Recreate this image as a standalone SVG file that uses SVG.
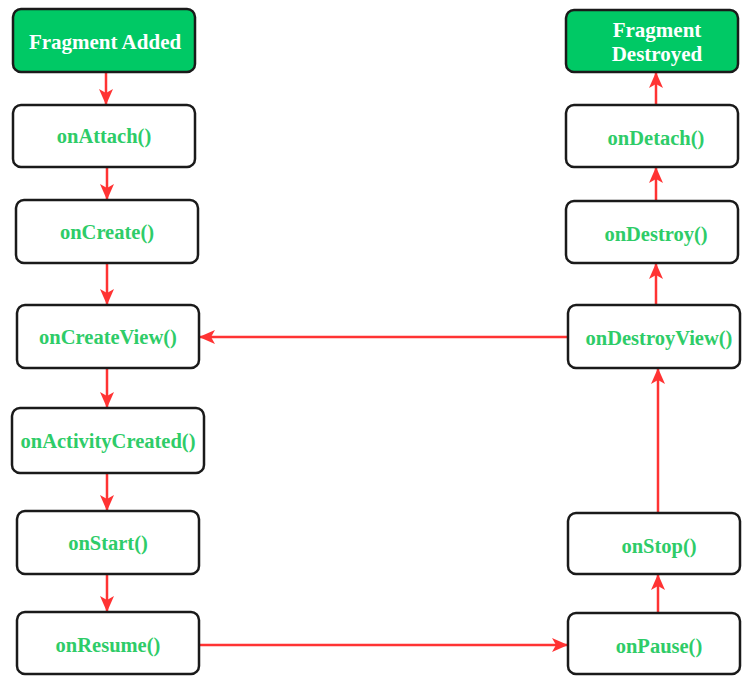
<svg xmlns="http://www.w3.org/2000/svg" width="742" height="676" viewBox="0 0 742 676">
<style>
.box{fill:#ffffff;stroke:#1a1a1a;stroke-width:2.5}
.hdr{fill:#00c965;stroke:#1a1a1a;stroke-width:2.5}
.t{font-family:"Liberation Serif","Times New Roman",serif;font-weight:bold;font-size:20.5px;text-anchor:middle;fill:#2ecc68}
.th{font-family:"Liberation Serif","Times New Roman",serif;font-weight:bold;font-size:21px;text-anchor:middle;fill:#ffffff}
.c{fill:none;stroke:#ff3333;stroke-width:2.5}
</style>
<defs>
<marker id="ah" viewBox="0 0 16 16" refX="15" refY="8" markerWidth="16" markerHeight="16" markerUnits="userSpaceOnUse" orient="auto">
<path d="M0,1 L16,8 L0,15 L4,8 Z" fill="#ff3333"/>
</marker>
</defs>
<rect width="742" height="676" fill="#ffffff"/>
<g id="connectors">
<line class="c" x1="106" y1="72" x2="106" y2="104" marker-end="url(#ah)"/>
<line class="c" x1="107" y1="167" x2="107" y2="199" marker-end="url(#ah)"/>
<line class="c" x1="107" y1="263" x2="107" y2="304" marker-end="url(#ah)"/>
<line class="c" x1="107" y1="368" x2="107" y2="407" marker-end="url(#ah)"/>
<line class="c" x1="107" y1="473" x2="107" y2="510" marker-end="url(#ah)"/>
<line class="c" x1="107" y1="574" x2="107" y2="611" marker-end="url(#ah)"/>
<line class="c" x1="199" y1="645" x2="567" y2="645" marker-end="url(#ah)"/>
<line class="c" x1="658" y1="613" x2="658" y2="575" marker-end="url(#ah)"/>
<line class="c" x1="658" y1="513" x2="658" y2="369" marker-end="url(#ah)"/>
<line class="c" x1="567" y1="337" x2="200" y2="337" marker-end="url(#ah)"/>
<line class="c" x1="656" y1="305" x2="656" y2="264" marker-end="url(#ah)"/>
<line class="c" x1="656" y1="200" x2="656" y2="168" marker-end="url(#ah)"/>
<line class="c" x1="656" y1="105" x2="656" y2="73" marker-end="url(#ah)"/>
</g>
<g id="fragment-added">
<rect class="hdr" x="13" y="9" width="182" height="63" rx="8"/>
<text class="th" x="105" y="49">Fragment Added</text>
</g>
<g id="onAttach">
<rect class="box" x="13" y="105" width="182" height="62" rx="8"/>
<text class="t" x="104" y="143">onAttach()</text>
</g>
<g id="onCreate">
<rect class="box" x="16" y="200" width="182" height="63" rx="8"/>
<text class="t" x="107" y="239">onCreate()</text>
</g>
<g id="onCreateView">
<rect class="box" x="17" y="305" width="182" height="63" rx="8"/>
<text class="t" x="108" y="344">onCreateView()</text>
</g>
<g id="onActivityCreated">
<rect class="box" x="12" y="408" width="192" height="65" rx="8"/>
<text class="t" x="108" y="448">onActivityCreated()</text>
</g>
<g id="onStart">
<rect class="box" x="17" y="511" width="182" height="63" rx="8"/>
<text class="t" x="108" y="550">onStart()</text>
</g>
<g id="onResume">
<rect class="box" x="17" y="612" width="182" height="62" rx="8"/>
<text class="t" x="108" y="652">onResume()</text>
</g>
<g id="fragment-destroyed">
<rect class="hdr" x="566" y="10" width="172" height="62" rx="8"/>
<text class="th" x="657" y="37">Fragment</text>
<text class="th" x="657" y="61">Destroyed</text>
</g>
<g id="onDetach">
<rect class="box" x="566" y="105" width="172" height="62" rx="8"/>
<text class="t" x="656" y="145">onDetach()</text>
</g>
<g id="onDestroy">
<rect class="box" x="566" y="201" width="172" height="62" rx="8"/>
<text class="t" x="656" y="241">onDestroy()</text>
</g>
<g id="onDestroyView">
<rect class="box" x="568" y="305" width="172" height="63" rx="8"/>
<text class="t" x="659" y="345">onDestroyView()</text>
</g>
<g id="onStop">
<rect class="box" x="568" y="513" width="172" height="61" rx="8"/>
<text class="t" x="659" y="553">onStop()</text>
</g>
<g id="onPause">
<rect class="box" x="568" y="613" width="172" height="61" rx="8"/>
<text class="t" x="659" y="653">onPause()</text>
</g>
</svg>
